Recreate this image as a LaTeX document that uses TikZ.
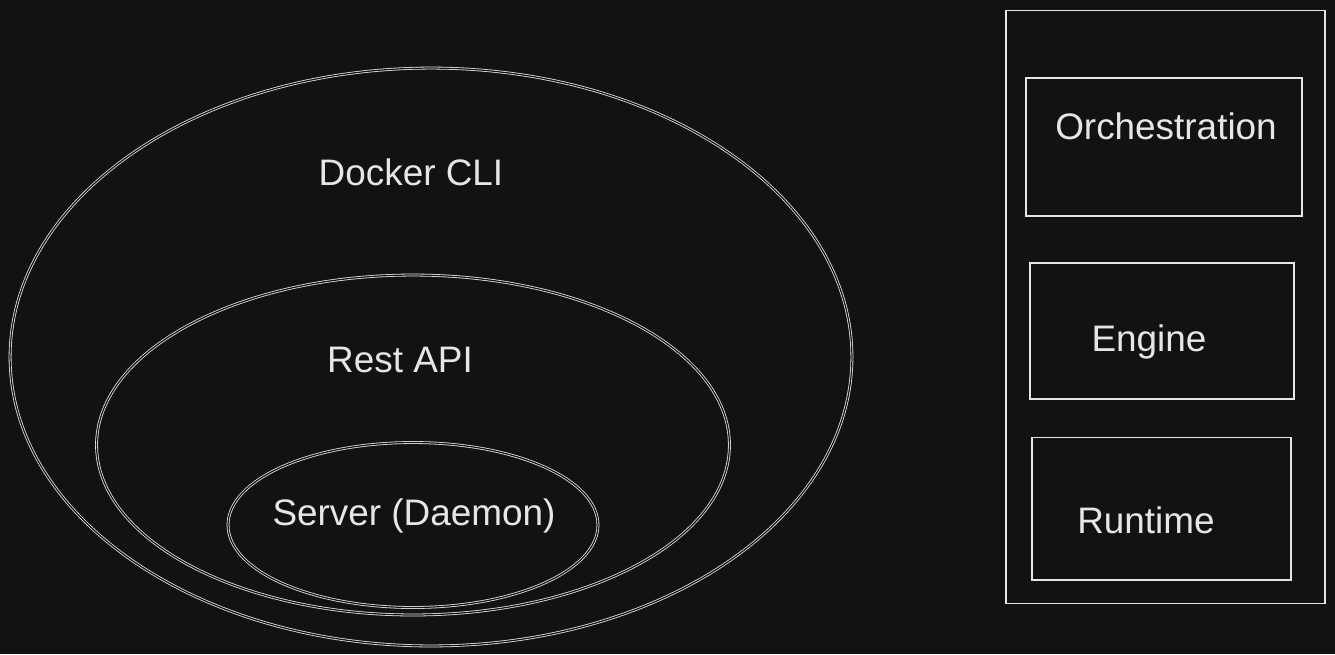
\documentclass[tikz,border=0pt]{standalone}
\usepackage{fontspec}
\setmainfont{Liberation Sans}
\usetikzlibrary{shapes.geometric}
\definecolor{bgdark}{HTML}{121212}
\definecolor{chalk}{HTML}{E6E6E6}

\begin{document}
\begin{tikzpicture}[x=0.02cm,y=-0.02cm,
    sketch/.style={draw=chalk,line width=0.45pt,double=bgdark,double distance=0.7pt},
    ring/.style={sketch,ellipse,inner sep=0pt},
    box/.style={draw=chalk,line width=0.6pt,shape=rectangle,inner sep=0pt},
    retrace/.style={draw=chalk,line width=0.45pt},
    word/.style={text=chalk,font=\fontsize{21}{25}\selectfont,inner sep=0pt}]
            \fill[bgdark] (0,0) rectangle (1335,654);
            \useasboundingbox (0,0) rectangle (1335,654);
            % client side
            \node[ring,minimum width=16.84cm,minimum height=11.56cm] (cli) at (431,357) {};
            \node[ring,minimum width=12.66cm,minimum height=6.8cm] (api) at (413,445) {};
            \node[ring,minimum width=7.4cm,minimum height=3.3cm] (daemon) at (413,525) {};
            \node[word] (clitext) at (411,172) {Docker CLI};
            \node[word] (apitext) at (400,360) {Rest API};
            \node[word] (daemontext) at (414,516) {Server (Daemon)};
            % stack
            \node[box,minimum width=6.4cm,minimum height=11.88cm] (stack) at (1165,307) {};
            \node[box,minimum width=5.54cm,minimum height=2.76cm] (orch) at (1163.5,147) {};
            \node[box,minimum width=5.3cm,minimum height=2.72cm] (engine) at (1161.5,331) {};
            \node[box,minimum width=5.2cm,minimum height=2.86cm] (runtime) at (1161,508.5) {};
            \foreach \b in {stack,orch,engine,runtime}
                \draw[retrace] ([shift={(1.5,1)}]\b.north west) rectangle ([shift={(-1,-1.5)}]\b.south east);
            \node[word] (orchtext) at (1166,126) {Orchestration};
            \node[word] (enginetext) at (1149,342) {Engine};
            \node[word] (runtimetext) at (1146,520) {Runtime};
        \end{tikzpicture}
\end{document}
